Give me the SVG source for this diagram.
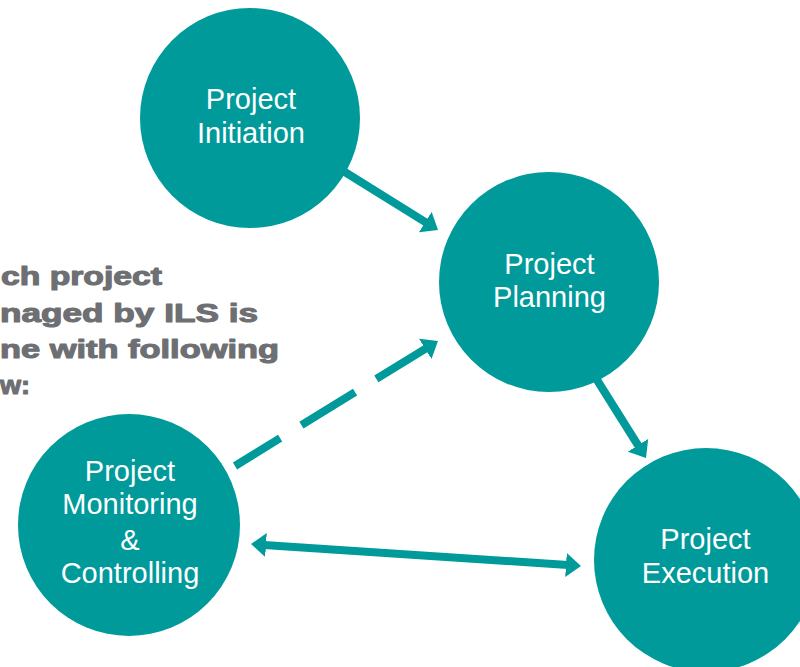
<svg xmlns="http://www.w3.org/2000/svg" width="800" height="667" viewBox="0 0 800 667">
<style>
.node{fill:#019a9a}
.lbl{font-family:"Liberation Sans",Arial,sans-serif;font-size:29px;fill:#ffffff;text-anchor:middle}
.conn{stroke:#019a9a;stroke-width:8;fill:none}
.note{font-family:"Liberation Sans",Arial,sans-serif;font-size:26px;font-weight:900;fill:#6e6f73;stroke:#6e6f73;stroke-width:1.1;stroke-linejoin:round}
</style>
<defs>
<marker id="ah" markerUnits="userSpaceOnUse" viewBox="0 0 15 24" markerWidth="15" markerHeight="24" refX="2" refY="12" orient="auto-start-reverse">
<path d="M0,0 L15,12 L0,24 z" fill="#019a9a"/>
</marker>
</defs>
<rect width="800" height="667" fill="#ffffff"/>
<g id="note">
<text class="note" x="1" y="285" textLength="161" lengthAdjust="spacingAndGlyphs">ch project</text>
<text class="note" x="0" y="322" textLength="258" lengthAdjust="spacingAndGlyphs">naged by ILS is</text>
<text class="note" x="0" y="358" textLength="279" lengthAdjust="spacingAndGlyphs">ne with following</text>
<text class="note" x="0" y="394" textLength="30" lengthAdjust="spacingAndGlyphs">w:</text>
</g>
<g id="connectors">
<path class="conn" d="M340,169 L427,223.1" marker-end="url(#ah)"/>
<path class="conn" d="M592,372 L639.1,447" marker-end="url(#ah)"/>
<path class="conn" d="M235,466 L426.9,347.8" stroke-dasharray="53 25 63 25 80" marker-end="url(#ah)"/>
<path class="conn" d="M264,544.9 L568,565.1" marker-start="url(#ah)" marker-end="url(#ah)"/>
</g>
<g id="initiation">
<circle class="node" cx="250" cy="118" r="110"/>
<text class="lbl" x="251" y="109">Project</text>
<text class="lbl" x="251" y="143">Initiation</text>
</g>
<g id="planning">
<circle class="node" cx="549" cy="282" r="110"/>
<text class="lbl" x="549.5" y="274">Project</text>
<text class="lbl" x="549.5" y="307">Planning</text>
</g>
<g id="monitoring">
<circle class="node" cx="129" cy="525" r="111"/>
<text class="lbl" x="130" y="481">Project</text>
<text class="lbl" x="130" y="514">Monitoring</text>
<text class="lbl" x="130" y="550">&amp;</text>
<text class="lbl" x="130" y="583">Controlling</text>
</g>
<g id="execution">
<circle class="node" cx="706" cy="560" r="112"/>
<text class="lbl" x="705.5" y="549">Project</text>
<text class="lbl" x="705.5" y="583">Execution</text>
</g>
</svg>
